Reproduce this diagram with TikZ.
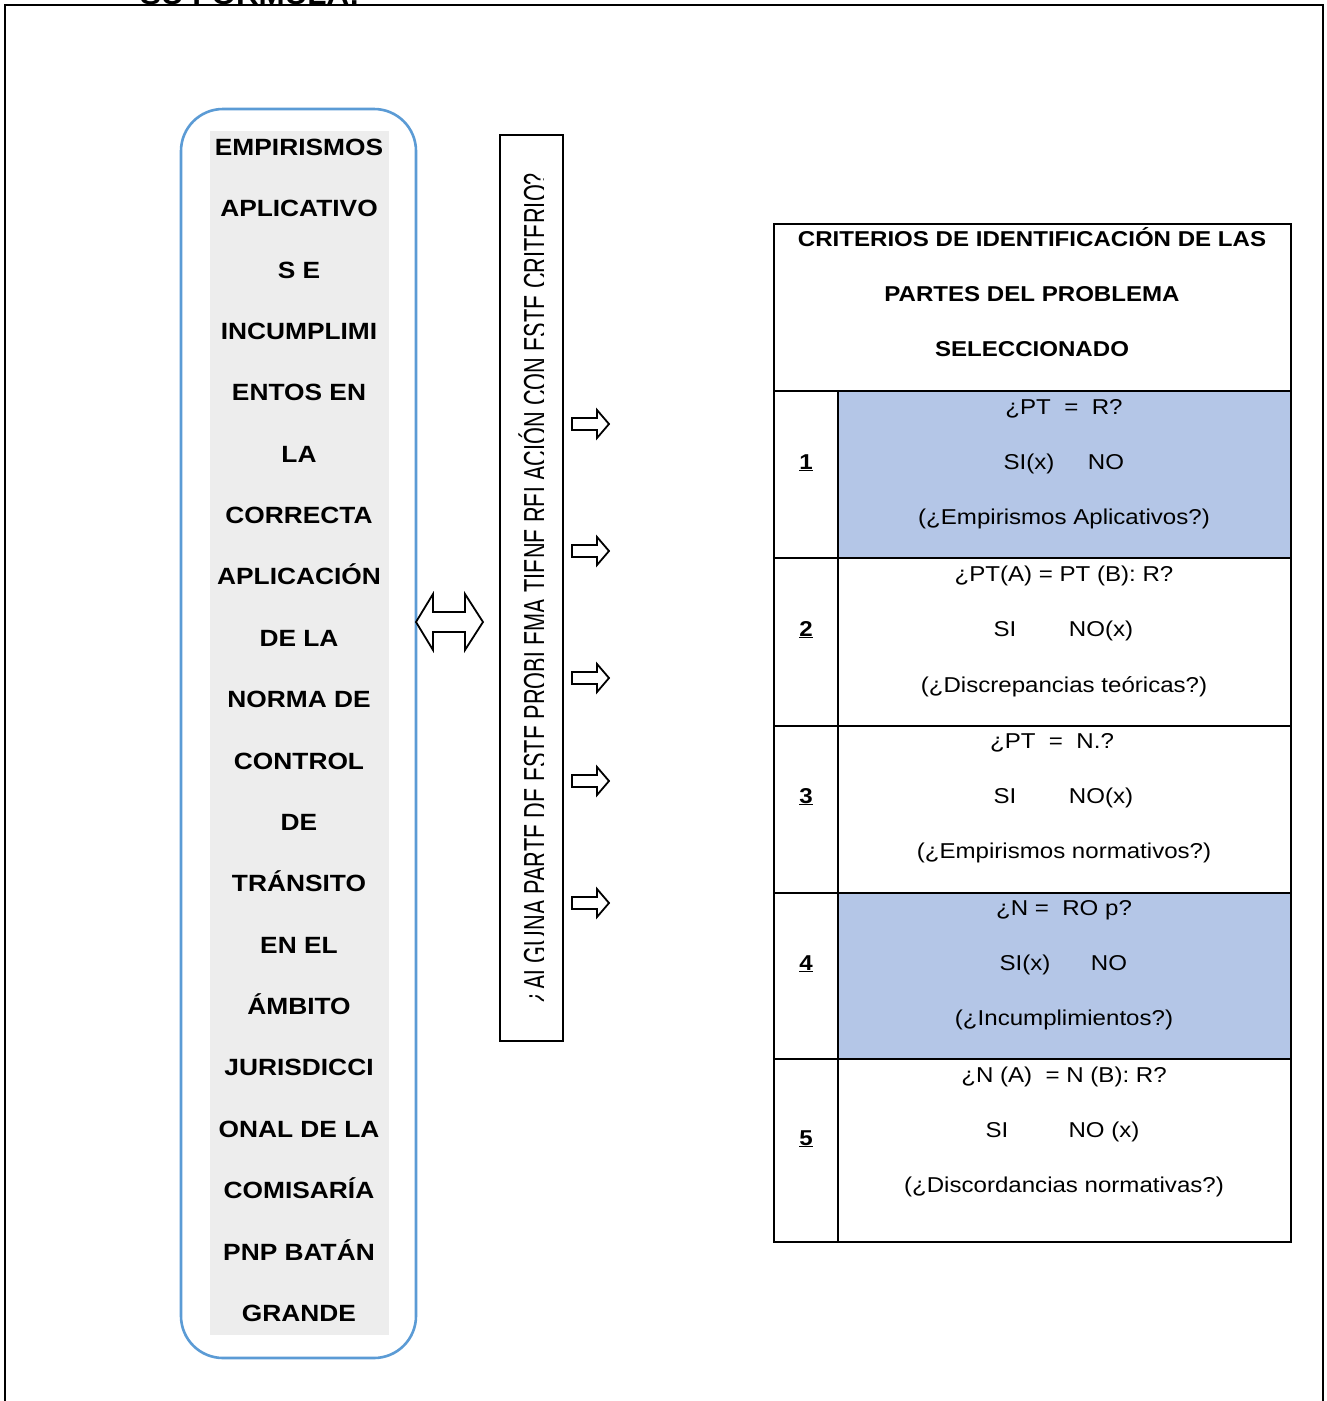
\documentclass[tikz,border=0pt]{standalone}
\usepackage{fontspec}
\setmainfont{Liberation Sans}[FakeStretch=1.12]
\newfontfamily\rotfont{Liberation Sans}
\definecolor{boxblue}{RGB}{91,155,213}
\definecolor{boxgray}{RGB}{237,237,237}
\definecolor{cellblue}{RGB}{180,198,231}
\begin{document}
\begin{tikzpicture}[x=1pt,y=-1pt,
  lbl/.style={inner sep=0pt, anchor=base, font=\fontsize{23.5}{28}\selectfont\bfseries},
  cell/.style={inner sep=0pt, anchor=base, font=\fontsize{21.5}{26}\selectfont},
  cellb/.style={inner sep=0pt, anchor=base, font=\fontsize{21.5}{26}\selectfont\bfseries},
  frameline/.style={line width=2.6pt},
  tabline/.style={line width=2.2pt},
  blockarrow/.style={draw=black, fill=white, line width=1.8pt, line join=miter},
]
\useasboundingbox (0,0) rectangle (1326,1401);
\fill[white] (0,0) rectangle (1326,1401);
% cut-off title above the frame
\begin{scope}
  \clip (0,0) rectangle (1326,1401);
  \node[inner sep=0pt, anchor=base west, font=\fontsize{28}{30}\selectfont\bfseries] (title) at (140,4) {SU FORMULA:};
\end{scope}
\draw[frameline] (5,1420) -- (5,5) -- (1323,5) -- (1323,1420);

% left rounded box
\node[draw=boxblue, line width=2.6pt, rounded corners=42pt, minimum width=235pt, minimum height=1249pt, inner sep=0pt] (leftbox) at (298.5,733.5) {};
\fill[boxgray] (210,131) rectangle (389,1335);
\foreach \t [count=\i from 0] in {EMPIRISMOS, APLICATIVO, S E, INCUMPLIMI, ENTOS EN, LA, CORRECTA, APLICACIÓN, DE LA, NORMA DE, CONTROL, DE, TRÁNSITO, EN EL, ÁMBITO, JURISDICCI, ONAL DE LA, COMISARÍA, PNP BATÁN, GRANDE}
  \node[lbl] (l\i) at (299,155.4+61.37*\i) {\t};

% double arrow
\draw[blockarrow] (416,622) -- (433,594) -- (433,612) -- (465,612) -- (465,594) -- (483,622) -- (465,650) -- (465,632) -- (433,632) -- (433,650) -- cycle;

% vertical question box
\node[draw, line width=2.2pt, minimum width=63pt, minimum height=906pt, inner sep=0pt] (qbox) at (531.5,588) {};
\begin{scope}
  \clip (502,137) rectangle (543.5,1039);
  \node[inner sep=0pt, anchor=base, rotate=90, font=\rotfont\fontsize{21.7}{24}\selectfont] (qtext) at (546.5,588) {\scalebox{1}[1.5]{¿ALGUNA PARTE DE ESTE PROBLEMA TIENE RELACIÓN CON ESTE CRITERIO?}};
\end{scope}

% small arrows
\foreach \y in {424,551,678,781,903}
  \draw[blockarrow, shift={(572,\y)}] (0,-6) -- (25,-6) -- (25,-14) -- (37,0) -- (25,14) -- (25,6) -- (0,6) -- cycle;

% table
\fill[cellblue] (838,391) rectangle (1291,558);
\fill[cellblue] (838,893) rectangle (1291,1059);
\draw[tabline] (774,224) rectangle (1291,1242);
\foreach \yy in {391,558,726,893,1059}
  \draw[tabline] (774,\yy) -- (1291,\yy);
\draw[tabline] (838,391) -- (838,1242);

\node[cellb] (h1) at (1032,246) {CRITERIOS DE IDENTIFICACIÓN DE LAS};
\node[cellb] (h2) at (1032,301) {PARTES DEL PROBLEMA};
\node[cellb] (h3) at (1032,356) {SELECCIONADO};

\node[cellb] (n1) at (806,469) {\underline{1}};
\node[cellb] (n2) at (806,636) {\underline{2}};
\node[cellb] (n3) at (806,803) {\underline{3}};
\node[cellb] (n4) at (806,970) {\underline{4}};
\node[cellb] (n5) at (806,1145) {\underline{5}};

% row 1
\node[cell] (r1a) at (1064,414) {¿PT\ \ =\ \ R?};
\node[cell] (r1s) at (1029,469) {SI(x)};
\node[cell] (r1n) at (1106,469) {NO};
\node[cell] (r1c) at (1064,524) {(¿Empirismos Aplicativos?)};
% row 2
\node[cell] (r2a) at (1064,581) {¿PT(A) = PT (B): R?};
\node[cell] (r2s) at (1005,636) {SI};
\node[cell] (r2n) at (1101,636) {NO(x)};
\node[cell] (r2c) at (1064,692) {(¿Discrepancias teóricas?)};
% row 3
\node[cell] (r3a) at (1052,748) {¿PT\ \ =\ \ N.?};
\node[cell] (r3s) at (1005,803) {SI};
\node[cell] (r3n) at (1101,803) {NO(x)};
\node[cell] (r3c) at (1064,858) {(¿Empirismos normativos?)};
% row 4
\node[cell] (r4a) at (1064,915) {¿N =\ \ RO p?};
\node[cell] (r4s) at (1025,970) {SI(x)};
\node[cell] (r4n) at (1109,970) {NO};
\node[cell] (r4c) at (1064,1025) {(¿Incumplimientos?)};
% row 5
\node[cell] (r5a) at (1064,1082) {¿N (A)\ \ = N (B): R?};
\node[cell] (r5s) at (997,1137) {SI};
\node[cell] (r5n) at (1104,1137) {NO (x)};
\node[cell] (r5c) at (1064,1192) {(¿Discordancias normativas?)};
\end{tikzpicture}
\end{document}
